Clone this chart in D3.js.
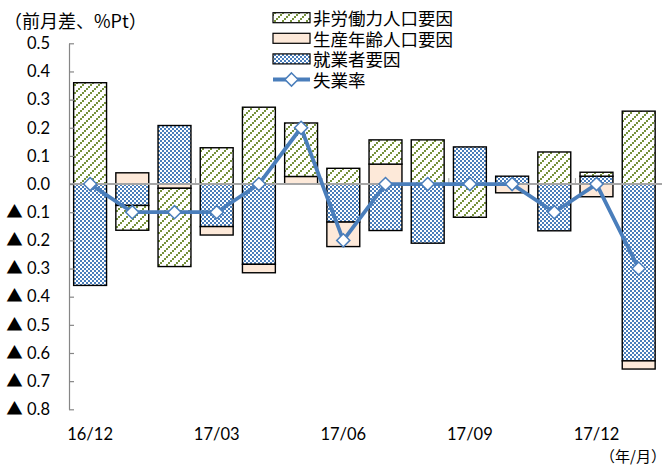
<!DOCTYPE html>
<html>
<head>
<meta charset="utf-8">
<script src="https://cdn.jsdelivr.net/npm/d3@7"></script>
<style>
  html, body { margin: 0; padding: 0; background: #fff; }
  svg { display: block; }
  .num { font-family: Lato, "Noto Sans CJK JP", sans-serif; font-size: 16.5px; fill: #000; }
  .jp { font-family: "Noto Sans CJK JP", sans-serif; fill: #000; }
</style>
</head>
<body>
<svg id="chart" width="662" height="466"></svg>
<script>
// 完全失業率の前月差と要因分解
const months = ["16/12","17/01","17/02","17/03","17/04","17/05","17/06",
                "17/07","17/08","17/09","17/10","17/11","17/12","18/01"];
const employed   = [-0.36, -0.076, 0.208, -0.151, -0.285, 0, -0.135, -0.165, -0.21, 0.132, 0.028, -0.166, 0.028, -0.628];
const workingAge = [0, 0.04, -0.015, -0.03, -0.03, 0.027, -0.087, 0.071, 0, 0, -0.031, 0, -0.045, -0.029];
const nonLabor   = [0.36, -0.088, -0.278, 0.129, 0.273, 0.19, 0.056, 0.086, 0.157, -0.118, 0, 0.114, 0.014, 0.259];
const unemploymentRate = [0, -0.1, -0.1, -0.1, 0, 0.2, -0.2, 0, 0, 0, 0, -0.1, 0, -0.3];

const yTicks = [0.5, 0.4, 0.3, 0.2, 0.1, 0, -0.1, -0.2, -0.3, -0.4, -0.5, -0.6, -0.7, -0.8];
const yTickLabels = ["0.5","0.4","0.3","0.2","0.1","0.0","▲ 0.1","▲ 0.2","▲ 0.3","▲ 0.4","▲ 0.5","▲ 0.6","▲ 0.7","▲ 0.8"];
const xTickLabels = ["16/12","17/03","17/06","17/09","17/12"];

const seriesKeys  = ["employed", "workingAge", "nonLabor"];
const seriesNames = { nonLabor: "非労働力人口要因", workingAge: "生産年齢人口要因", employed: "就業者要因" };
const legendOrder = ["nonLabor", "workingAge", "employed"];
const lineName = "失業率";

const svg = d3.select("#chart");
const plot = { left: 69, right: 659.8, top: 43.3, bottom: 409.3 };

// fill patterns
const defs = svg.append("defs");
const hatch = defs.append("pattern").attr("id", "hatch")
  .attr("width", 8).attr("height", 8).attr("patternUnits", "userSpaceOnUse");
hatch.append("rect").attr("width", 8).attr("height", 8).attr("fill", "#fff");
[[0,6],[2,4],[4,2],[6,0]].forEach(([px,py]) =>
  hatch.append("rect").attr("x", px).attr("y", py).attr("width", 2).attr("height", 2).attr("fill", "#76923c"));
const checker = defs.append("pattern").attr("id", "checker")
  .attr("width", 4).attr("height", 4).attr("patternUnits", "userSpaceOnUse");
checker.append("rect").attr("width", 4).attr("height", 4).attr("fill", "#fff");
checker.append("rect").attr("width", 2).attr("height", 2).attr("fill", "#4a7ebb");
checker.append("rect").attr("x", 2).attr("y", 2).attr("width", 2).attr("height", 2).attr("fill", "#4a7ebb");

const fills = { nonLabor: "url(#hatch)", workingAge: "#fde9d9", employed: "url(#checker)" };

const table = months.map((m, i) => ({
  month: m, employed: employed[i], workingAge: workingAge[i], nonLabor: nonLabor[i], rate: unemploymentRate[i]
}));

const x = d3.scaleBand().domain(months).range([plot.left, plot.right])
  .paddingInner(0.22).paddingOuter(0.11);
const y = d3.scaleLinear().domain([-0.8, 0.5]).range([plot.bottom, plot.top]);

const stacked = d3.stack().keys(seriesKeys).offset(d3.stackOffsetDiverging)(table);

// bars
svg.append("g").selectAll("g").data(stacked).join("g")
  .attr("fill", d => fills[d.key])
  .selectAll("rect").data(d => d.filter(p => p[1] - p[0] !== 0)).join("rect")
  .attr("x", d => x(d.data.month))
  .attr("width", x.bandwidth())
  .attr("y", d => y(Math.max(d[0], d[1])))
  .attr("height", d => Math.abs(y(d[0]) - y(d[1])))
  .attr("stroke", "#000").attr("stroke-width", 1.4);

// zero line with category ticks
svg.append("line").attr("x1", plot.left).attr("x2", 662)
  .attr("y1", y(0)).attr("y2", y(0)).attr("stroke", "#a6a6a6").attr("stroke-width", 2);
const step = x.step();
[3, 6, 9, 12].forEach(i => {
  const bx = x(months[i]) - step * x.paddingInner() / 2;
  svg.append("line").attr("x1", bx).attr("x2", bx)
    .attr("y1", y(0) - 6).attr("y2", y(0)).attr("stroke", "#a6a6a6").attr("stroke-width", 1);
});

// y axis
const yAxis = d3.axisLeft(y).tickValues(yTicks)
  .tickFormat((d, i) => yTickLabels[i])
  .tickSizeInner(-5).tickSizeOuter(0).tickPadding(19);
const gy = svg.append("g").attr("transform", `translate(${plot.left},0)`).call(yAxis);
gy.selectAll("path, line").attr("stroke", "#868686").attr("stroke-width", 1.2);
gy.selectAll("text").attr("class", "num").attr("font-family", null).attr("font-size", null);

// x labels
const xAxis = d3.axisBottom(x).tickValues(xTickLabels).tickSize(0).tickPadding(0);
const gx = svg.append("g").attr("transform", `translate(0,434)`).call(xAxis);
gx.select(".domain").remove();
gx.selectAll("text").attr("class", "num").attr("font-family", null).attr("font-size", null)
  .attr("dy", null).attr("y", 0).attr("dominant-baseline", "central");

// unemployment rate line
const line = d3.line().x(d => x(d.month) + x.bandwidth() / 2).y(d => y(d.rate));
svg.append("path").datum(table).attr("d", line)
  .attr("fill", "none").attr("stroke", "#4a7ebb").attr("stroke-width", 3.8).attr("stroke-linejoin", "round");
const diamond = d3.symbol().type(d3.symbolDiamond2).size(110);
svg.append("g").selectAll("path").data(table).join("path")
  .attr("d", diamond)
  .attr("transform", d => `translate(${x(d.month) + x.bandwidth() / 2},${y(d.rate)})`)
  .attr("fill", "#fff").attr("stroke", "#4a7ebb").attr("stroke-width", 1.5);

// axis titles
svg.append("text").attr("class", "jp").attr("x", 4).attr("y", 20)
  .attr("dominant-baseline", "central").attr("font-size", 18).text("（前月差、%Pt）");
svg.append("text").attr("class", "jp").attr("x", 600).attr("y", 455)
  .attr("dominant-baseline", "central").attr("font-size", 15).text("（年/月）");

// legend
const legendX = 273, legendRowY = [17.7, 38.3, 58.9, 79.5];
legendOrder.forEach((k, i) => {
  svg.append("rect").attr("x", legendX).attr("y", legendRowY[i] - 5)
    .attr("width", 37).attr("height", 10)
    .attr("fill", fills[k]).attr("stroke", "#000").attr("stroke-width", 1.2);
  svg.append("text").attr("class", "jp").attr("x", 313).attr("y", legendRowY[i])
    .attr("dominant-baseline", "central").attr("font-size", 17.5).text(seriesNames[k]);
});
svg.append("line").attr("x1", legendX).attr("x2", legendX + 37)
  .attr("y1", legendRowY[3]).attr("y2", legendRowY[3])
  .attr("stroke", "#4a7ebb").attr("stroke-width", 3.8);
svg.append("path").attr("d", diamond)
  .attr("transform", `translate(${legendX + 18.5},${legendRowY[3]})`)
  .attr("fill", "#fff").attr("stroke", "#4a7ebb").attr("stroke-width", 1.5);
svg.append("text").attr("class", "jp").attr("x", 313).attr("y", legendRowY[3])
  .attr("dominant-baseline", "central").attr("font-size", 17.5).text(lineName);
</script>
</body>
</html>
